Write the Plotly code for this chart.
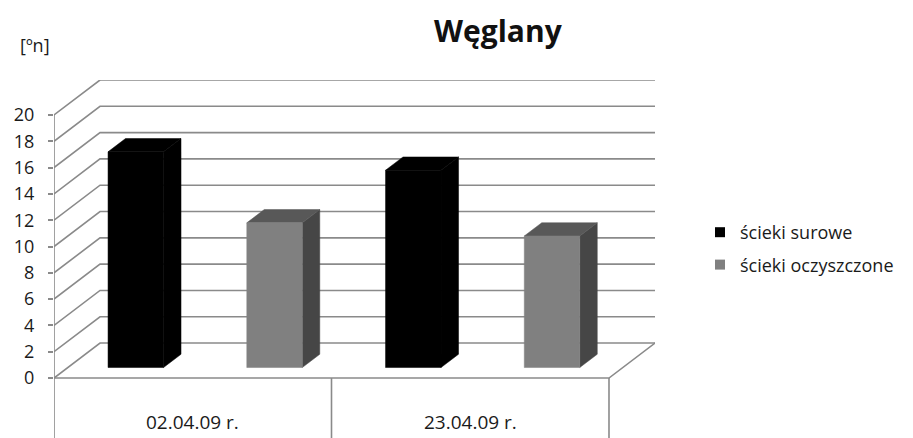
import plotly.graph_objects as go

# ---- data ----
categories = ["02.04.09 r.", "23.04.09 r."]
series_names = ["ścieki surowe", "ścieki oczyszczone"]
values_surowe = [16.4, 15.0]
values_oczyszczone = [11.0, 10.0]
y_ticks = [0, 2, 4, 6, 8, 10, 12, 14, 16, 18, 20]
title_text = "Węglany"
unit_text = "[ºn]"

# ---- styling / geometry ----
front_colors = ["#000000", "#808080"]
top_colors = ["#000000", "#585858"]
side_colors = ["#000000", "#464646"]
grid_color = "#8a8a8a"
FONT = "Open Sans"

DX = 0.1658   # full depth, x units
DY = 2.66     # full depth, value units
T0, T1 = 0.30, 0.68  # bar depth fraction range
BAR_W = 0.2
BAR_OFF = [0.145, 0.645]
Y_MIN, Y_MAX = -4.56, 22.66
n_cat = len(categories)
vmax = y_ticks[-1]

fig = go.Figure()

def line(xs, ys, color=grid_color, width=1.6):
    fig.add_trace(go.Scatter(x=xs, y=ys, mode="lines", line=dict(color=color, width=width),
                             hoverinfo="skip", showlegend=False))

# gridlines (side wall diagonal + back wall)
for v in y_ticks:
    line([0, DX, n_cat + DX], [v, v + DY, v + DY])
# floor front edge and right edge
line([0, n_cat, n_cat + DX], [0, 0, DY])
# front axis line
line([0, 0], [vmax, Y_MIN])
# category separators below floor
for i in range(1, n_cat + 1):
    line([i, i], [0, Y_MIN])

# bars
all_vals = [values_surowe, values_oczyszczone]
a0, a1 = T0 * DX, T1 * DX
b0, b1 = T0 * DY, T1 * DY
for s, vals in enumerate(all_vals):
    for c, v in enumerate(vals):
        x0 = c + BAR_OFF[s]
        x1 = x0 + BAR_W
        # side
        fig.add_trace(go.Scatter(
            x=[x1 + a0, x1 + a1, x1 + a1, x1 + a0, x1 + a0],
            y=[b0, b1, v + b1, v + b0, b0],
            fill="toself", fillcolor=side_colors[s], mode="lines",
            line=dict(color=side_colors[s], width=0.5), hoverinfo="skip", showlegend=False))
        # top
        fig.add_trace(go.Scatter(
            x=[x0 + a0, x1 + a0, x1 + a1, x0 + a1, x0 + a0],
            y=[v + b0, v + b0, v + b1, v + b1, v + b0],
            fill="toself", fillcolor=top_colors[s], mode="lines",
            line=dict(color=top_colors[s], width=0.5), hoverinfo="skip", showlegend=False))
        # front
        fig.add_trace(go.Scatter(
            x=[x0 + a0, x1 + a0, x1 + a0, x0 + a0, x0 + a0],
            y=[b0, b0, v + b0, v + b0, b0],
            fill="toself", fillcolor=front_colors[s], mode="lines",
            line=dict(color=front_colors[s], width=0.5), hoverinfo="text",
            text=f"{series_names[s]}: {v}", showlegend=False))

# legend entries
for s, name in enumerate(series_names):
    fig.add_trace(go.Scatter(x=[None], y=[None], mode="markers", name=name,
                             legendgroup=name,
                             marker=dict(symbol="square", size=10, color=front_colors[s])))

# category labels
for c, cat in enumerate(categories):
    fig.add_annotation(x=c + 0.5, y=-3.35, xref="x", yref="y", text=cat, showarrow=False,
                       xanchor="center", yanchor="middle",
                       font=dict(family=FONT, size=19, color="#1a1a1a"))

W, H = 913, 438
L, R, T, B = 54, 258, 80, 0
pw, ph = W - L - R, H - T - B
def px(xp): return (xp - L) / pw
def py(yp): return (H - B - yp) / ph

fig.add_annotation(x=px(498), y=py(30), xref="paper", yref="paper", text=f"<b>{title_text}</b>",
                   showarrow=False, xanchor="center", yanchor="middle",
                   font=dict(family=FONT, size=30, color="#111111"))
fig.add_annotation(x=px(35), y=py(45), xref="paper", yref="paper", text=unit_text,
                   showarrow=False, xanchor="center", yanchor="middle",
                   font=dict(family=FONT, size=18, color="#1a1a1a"))

fig.update_layout(
    width=W, height=H,
    margin=dict(l=L, r=R, t=T, b=B, pad=0),
    paper_bgcolor="white", plot_bgcolor="white",
    xaxis=dict(range=[0, n_cat + DX], visible=False, fixedrange=True),
    yaxis=dict(range=[Y_MIN, Y_MAX], tickvals=y_ticks, ticks="outside", ticklen=5,
               tickcolor=grid_color, tickwidth=1.5, showgrid=False, zeroline=False,
               showline=False, ticklabelstandoff=10,
               tickfont=dict(family=FONT, size=18, color="#1a1a1a"), fixedrange=True),
    legend=dict(x=px(700), y=py(214), xanchor="left", yanchor="top",
                font=dict(family=FONT, size=18, color="#1a1a1a"),
                tracegroupgap=6, bgcolor="rgba(0,0,0,0)"),
    showlegend=True,
)

fig.write_html("out.html")
